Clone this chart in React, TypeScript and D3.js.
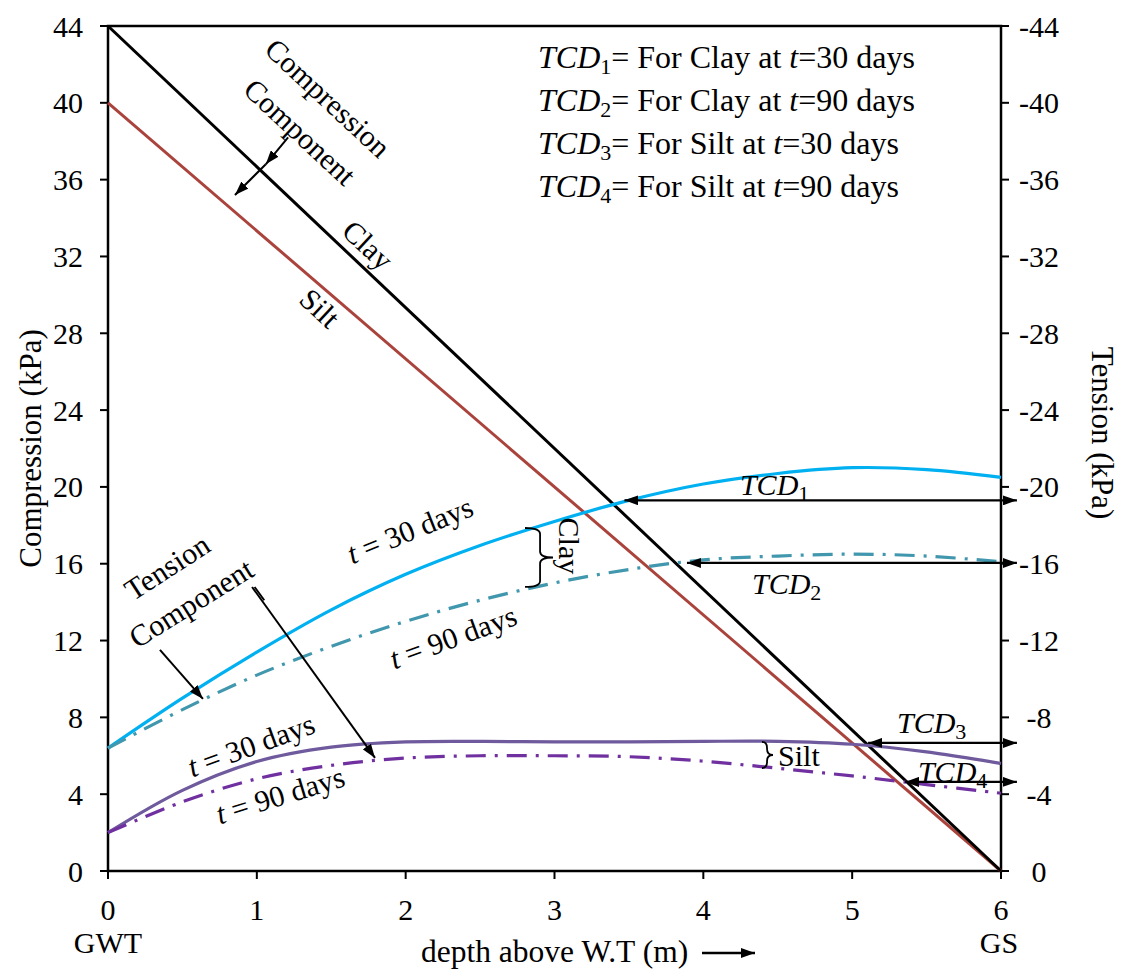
import React from "react";
import * as d3 from "d3";

const depth = [0, 0.5, 1, 1.5, 2, 2.5, 3, 3.5, 4, 4.5, 5, 5.5, 6];
const clay30 = [6.4, 9.0, 11.4, 13.6, 15.45, 16.95, 18.2, 19.3, 20.15, 20.7, 21.0, 20.9, 20.5];
const clay90 = [6.4, 8.4, 10.2, 11.7, 13.0, 14.1, 15.0, 15.7, 16.2, 16.4, 16.5, 16.4, 16.1];
const silt30 = [2.0, 4.2, 5.7, 6.45, 6.72, 6.75, 6.72, 6.72, 6.75, 6.75, 6.6, 6.2, 5.6];
const silt90 = [2.0, 3.6, 4.8, 5.5, 5.88, 6.0, 6.0, 5.95, 5.72, 5.35, 4.95, 4.5, 4.05];
const clayComp = [44, 0];
const siltComp = [40, 0];
const compDepth = [0, 6];
const xTicks = [0, 1, 2, 3, 4, 5, 6];
const yTicks = [0, 4, 8, 12, 16, 20, 24, 28, 32, 36, 40, 44];
const legendLines = [
  { n: "1", soil: "Clay", t: "30" },
  { n: "2", soil: "Clay", t: "90" },
  { n: "3", soil: "Silt", t: "30" },
  { n: "4", soil: "Silt", t: "90" },
];
// TCD arrows: [startDepth, value, endDepth]
const tcdArrows = [
  { x0: 3.47, y: 19.3, x1: 6.107 },
  { x0: 3.89, y: 16.04, x1: 6.107 },
  { x0: 5.107, y: 6.67, x1: 6.107 },
  { x0: 5.355, y: 4.64, x1: 6.107 },
];
const tcdLabels = [
  { n: "1", x: 4.246, y: 19.6 },
  { n: "2", x: 4.327, y: 14.4 },
  { n: "3", x: 5.301, y: 7.2 },
  { n: "4", x: 5.442, y: 4.64 },
];
const rotLabels = [
  { t: "Compression", x: 1.478, y: 40.26, r: 43 },
  { t: "Component", x: 1.29, y: 38.49, r: 43 },
  { t: "Clay", x: 1.747, y: 32.6, r: 43 },
  { t: "Silt", x: 1.424, y: 29.32, r: 43 },
  { t: "Tension", x: 0.396, y: 15.83, r: -33 },
  { t: "Component", x: 0.558, y: 13.96, r: -32 },
  { t: "Clay", x: 3.104, y: 16.93, r: 90 },
];
const dayLabels = [
  { d: "30", x: 2.029, y: 17.76, r: -22 },
  { d: "90", x: 2.318, y: 12.19, r: -20 },
  { d: "30", x: 0.961, y: 6.56, r: -20 },
  { d: "90", x: 1.156, y: 3.96, r: -17 },
];

const W = 1122, H = 971;
const FONT = "'Liberation Serif', 'Times New Roman', serif";
const FS = 30;

export default function App() {
  const x = d3.scaleLinear().domain([0, 6]).range([108, 1001]);
  const y = d3.scaleLinear().domain([0, 44]).range([871, 26]);
  const line = (ys: number[], xs: number[] = depth, curve: any = d3.curveCatmullRom.alpha(0.5)) =>
    d3.line<number>().x((_, i) => x(xs[i])).y((v) => y(v)).curve(curve)(ys) as string;

  const brace = (xa: number, xb: number, xc: number, ya: number, yb: number) => {
    const X0 = x(xa), X1 = x(xb), X2 = x(xc), Y0 = y(ya), Y1 = y(yb), Ym = (Y0 + Y1) / 2;
    const r = Math.min(6, (Y1 - Y0) / 4);
    return `M${X0},${Y0} Q${X1},${Y0} ${X1},${Y0 + r} L${X1},${Ym - r} Q${X1},${Ym} ${X2},${Ym} Q${X1},${Ym} ${X1},${Ym + r} L${X1},${Y1 - r} Q${X1},${Y1} ${X0},${Y1}`;
  };
  const seg = (a: [number, number], b: [number, number]) =>
    `M${x(a[0])},${y(a[1])} L${x(b[0])},${y(b[1])}`;

  return (
    <svg width={W} height={H} style={{ position: "absolute", left: 0, top: 0, background: "#fff" }} fontFamily={FONT}>
      <defs>
        <marker id="ah" viewBox="0 0 14 10" refX="14" refY="5" markerWidth="14" markerHeight="10" markerUnits="userSpaceOnUse" orient="auto-start-reverse">
          <path d="M0,0 L14,5 L0,10 Z" fill="#000" />
        </marker>
      </defs>
      <rect x={0} y={0} width={W} height={H} fill="#fff" />

      {/* frame */}
      <rect x={x(0)} y={y(44)} width={x(6) - x(0)} height={y(0) - y(44)} fill="none" stroke="#000" strokeWidth={2.5} />
      {/* ticks */}
      {yTicks.map((t) => (
        <g key={"y" + t}>
          <line x1={x(0) - 8} x2={x(0)} y1={y(t)} y2={y(t)} stroke="#000" strokeWidth={2} />
          <line x1={x(6)} x2={x(6) + 8} y1={y(t)} y2={y(t)} stroke="#000" strokeWidth={2} />
          <text x={x(0) - 25} y={y(t)} dy="0.35em" fontSize={FS} textAnchor="end">{t}</text>
          <text x={1039} y={y(t)} dy="0.35em" fontSize={FS} textAnchor="middle">{t === 0 ? "0" : "-" + t}</text>
        </g>
      ))}
      {xTicks.map((t) => (
        <g key={"x" + t}>
          <line x1={x(t)} x2={x(t)} y1={y(0)} y2={y(0) + 8} stroke="#000" strokeWidth={2} />
          <text x={x(t)} y={920} fontSize={FS} textAnchor="middle">{t}</text>
        </g>
      ))}
      <text x={x(0)} y={953} fontSize={FS} textAnchor="middle">GWT</text>
      <text x={x(6) - 2} y={953} fontSize={FS} textAnchor="middle">GS</text>
      <text x={421} y={962} fontSize={31.5}>depth above W.T (m)</text>
      <path d="M702,953 L755,953" stroke="#000" strokeWidth={2.5} markerEnd="url(#ah)" />
      <text transform={`translate(30,${(y(0) + y(44)) / 2}) rotate(-90)`} dy="0.35em" fontSize={31} textAnchor="middle">Compression (kPa)</text>
      <text transform={`translate(1103,433) rotate(90)`} dy="0.35em" fontSize={31} textAnchor="middle">Tension (kPa)</text>

      {/* compression lines */}
      <path d={line(siltComp, compDepth, d3.curveLinear)} fill="none" stroke="#A9433C" strokeWidth={3} />
      <path d={line(clayComp, compDepth, d3.curveLinear)} fill="none" stroke="#000" strokeWidth={3} />
      {/* tension curves */}
      <path d={line(clay30)} fill="none" stroke="#00B0F0" strokeWidth={3.2} />
      <path d={line(clay90)} fill="none" stroke="#4197AD" strokeWidth={3.2} strokeDasharray="20,9,3,9" />
      <path d={line(silt30)} fill="none" stroke="#6E5A9C" strokeWidth={3.2} />
      <path d={line(silt90)} fill="none" stroke="#7030A0" strokeWidth={3.2} strokeDasharray="20,9,3,9" />

      {/* TCD arrows */}
      {tcdArrows.map((a, i) => (
        <path key={"a" + i} d={seg([a.x0, a.y], [a.x1, a.y])} stroke="#000" strokeWidth={2.2} markerStart="url(#ah)" markerEnd="url(#ah)" />
      ))}
      {tcdLabels.map((l, i) => (
        <text key={"l" + i} x={x(l.x)} y={y(l.y)} fontSize={FS} fontStyle="italic">
          TCD<tspan fontStyle="normal" fontSize={22} dy={6}>{l.n}</tspan>
        </text>
      ))}

      {/* annotation arrows */}
      <path d={seg([1.21, 38.2], [1.06, 36.8])} stroke="#000" strokeWidth={2} markerEnd="url(#ah)" />
      <path d={seg([1.06, 36.8], [0.853, 35.2])} stroke="#000" strokeWidth={2} markerEnd="url(#ah)" />
      <path d={seg([0.349, 11.51], [0.638, 8.96])} stroke="#000" strokeWidth={2} markerEnd="url(#ah)" />
      <path d={seg([0.968, 14.79], [1.794, 5.89])} stroke="#000" strokeWidth={2} markerEnd="url(#ah)" />
      <path d={seg([0.985, 14.79], [1.05, 14.1])} stroke="#000" strokeWidth={2} />

      {/* braces */}
      <path d={brace(2.802, 2.903, 2.99, 17.86, 14.79)} fill="none" stroke="#000" strokeWidth={1.8} />
      <path d={brace(4.394, 4.428, 4.468, 6.72, 5.36)} fill="none" stroke="#000" strokeWidth={1.8} />
      <text x={x(4.502)} y={y(5.99)} dy="0.35em" fontSize={FS}>Silt</text>

      {rotLabels.map((l, i) => (
        <text key={"r" + i} transform={`translate(${x(l.x)},${y(l.y)}) rotate(${l.r})`} dy="0.35em" fontSize={FS} textAnchor="middle">{l.t}</text>
      ))}
      {dayLabels.map((l, i) => (
        <text key={"d" + i} transform={`translate(${x(l.x)},${y(l.y)}) rotate(${l.r})`} dy="0.35em" fontSize={FS} textAnchor="middle">
          <tspan fontStyle="italic">t</tspan> = {l.d} days
        </text>
      ))}

      {/* legend */}
      {legendLines.map((l, i) => (
        <text key={"g" + i} x={538} y={68 + i * 43} fontSize={32}>
          <tspan fontStyle="italic">TCD</tspan>
          <tspan fontSize={22} dy={6}>{l.n}</tspan>
          <tspan dy={-6}>= For {l.soil} at </tspan>
          <tspan fontStyle="italic">t</tspan>
          <tspan>={l.t} days</tspan>
        </text>
      ))}
    </svg>
  );
}
